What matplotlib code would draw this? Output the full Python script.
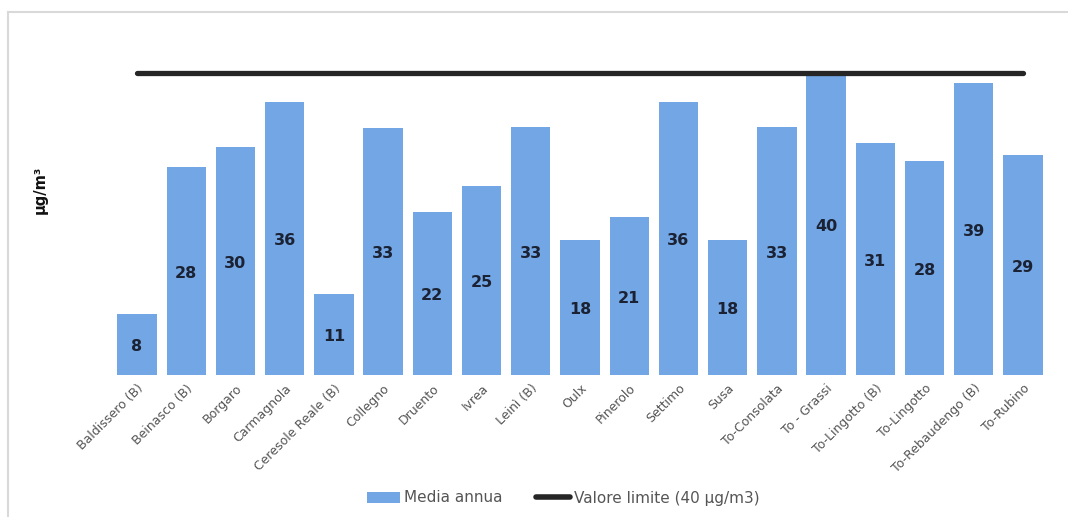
import matplotlib
matplotlib.use("Agg")
import matplotlib.pyplot as plt
from matplotlib.lines import Line2D
from matplotlib.patches import Patch

stations = ["Baldissero (B)", "Beinasco (B)", "Borgaro", "Carmagnola", "Ceresole Reale (B)",
            "Collegno", "Druento", "Ivrea", "Leinì (B)", "Oulx", "Pinerolo", "Settimo", "Susa",
            "To-Consolata", "To - Grassi", "To-Lingotto (B)", "To-Lingotto", "To-Rebaudengo (B)",
            "To-Rubino"]
media_annua = [8.1, 27.6, 30.2, 36.2, 10.7, 32.7, 21.6, 25.0, 32.9, 17.9, 20.9, 36.2, 17.9,
               32.8, 40.0, 30.7, 28.3, 38.7, 29.2]
valore_limite = 40

W, H = 1068, 517
fig = plt.figure(figsize=(W / 100, H / 100), dpi=100)
ax = fig.add_axes([112.4 / W, (H - 375) / H, 935.2 / W, 317 / H])

bar_color = "#72a6e4"
x = list(range(len(stations)))
ax.bar(x, media_annua, width=0.8, color=bar_color, zorder=2)
ax.plot([x[0], x[-1]], [valore_limite, valore_limite], color="#262626", lw=3.8,
        solid_capstyle="round", zorder=3)

for xi, v in zip(x, media_annua):
    ax.text(xi, v / 2 - 0.3, f"{int(v + 0.5):d}", ha="center", va="center", fontsize=11.5,
            fontweight="bold", color="#1b2233", zorder=4)

ax.set_xlim(-0.5, len(stations) - 0.5)
ax.set_ylim(0, 42)
for s in ax.spines.values():
    s.set_visible(False)
ax.set_yticks([])
ax.set_xticks(x)
ax.set_xticklabels(stations, rotation=45, ha="right", va="top", rotation_mode="anchor",
                   fontsize=9, color="#555555")
ax.tick_params(axis="x", length=0, pad=5)

fig.text(40 / W, 1 - 190 / H, "µg/m³", rotation=90, ha="center", va="center",
         fontsize=10.5, fontweight="bold", color="#111111")

handles = [Patch(facecolor=bar_color, edgecolor="none", label="Media annua"),
           Line2D([0], [0], color="#262626", lw=4, solid_capstyle="round",
                  label="Valore limite (40 µg/m3)")]
fig.legend(handles=handles, loc="center", bbox_to_anchor=(563 / W, 19 / H), ncol=2,
           frameon=False, fontsize=11, labelcolor="#555555", handlelength=2.2,
           handletextpad=0.25, columnspacing=2.2)

# light frame
fig.add_artist(Line2D([7.5 / W, 7.5 / W], [0, 1 - 12 / H], transform=fig.transFigure,
                      color="#d9d9d9", lw=1.5))
fig.add_artist(Line2D([7.5 / W, 1], [1 - 12 / H, 1 - 12 / H], transform=fig.transFigure,
                      color="#d9d9d9", lw=1.5))

fig.savefig("out.png", dpi=100)
